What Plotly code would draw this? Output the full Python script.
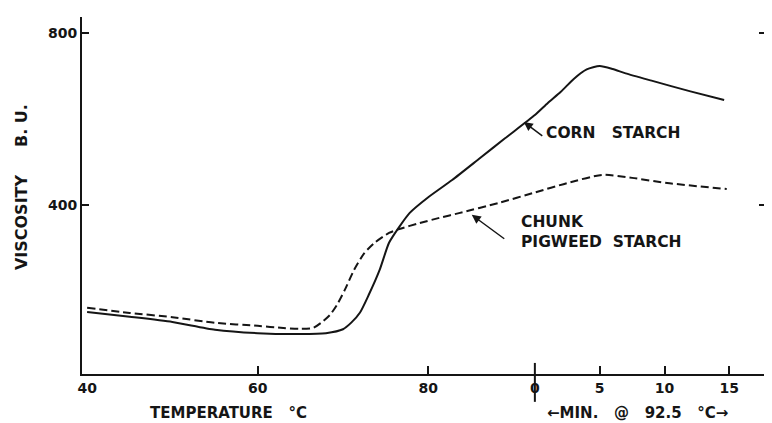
import plotly.graph_objects as go

# ---- data ----
# heating phase (temperature, deg C) and holding phase (minutes at 92.5 C)
corn_temp = [40, 45, 50, 55, 60, 65, 68, 70, 71, 72, 73, 74.3, 75.4, 76.6, 77.8, 80, 82.8, 86, 89]
corn_temp_visc = [151, 140, 128, 110, 102, 100, 102, 111, 127, 150, 190, 249, 312, 349, 381, 418, 458, 508, 555]
corn_min = [0, 1, 2, 3, 4, 5, 6, 7, 9, 12, 14.6]
corn_min_visc = [609, 637, 663, 693, 715, 723, 716, 706, 689, 664, 644]

pig_temp = [40, 45, 50, 55, 60, 63, 65, 66.5, 67.5, 68.5, 69.3, 70.2, 71.3, 72.5, 73.7, 75.4, 76.6, 79, 81.3, 83.6, 88.3]
pig_temp_visc = [161, 149, 139, 126, 119, 114, 112, 114, 127, 145, 168, 202, 249, 288, 312, 335, 344, 358, 370, 381, 405]
pig_min = [0, 2.5, 5.2, 7.5, 10.2, 14.8]
pig_min_visc = [429, 451, 470, 463, 451, 437]

temp_ticks = [40, 60, 80]
min_ticks = [0, 5, 10, 15]
y_ticks = [400, 800]

HOLD_T = 92.5        # minute 0 sits at 92.5 C on the shared axis
MIN_SCALE = 1.52     # axis units per minute


def m2x(m):
    return HOLD_T + m * MIN_SCALE


corn_x = corn_temp + [m2x(m) for m in corn_min]
corn_y = corn_temp_visc + corn_min_visc
pig_x = pig_temp + [m2x(m) for m in pig_min]
pig_y = pig_temp_visc + pig_min_visc

FONT = "DejaVu Sans"
INK = "#151515"

fig = go.Figure()
fig.add_trace(go.Scatter(x=corn_x, y=corn_y, mode="lines", name="CORN STARCH",
                         line=dict(color=INK, width=2, shape="spline", smoothing=0.6)))
fig.add_trace(go.Scatter(x=pig_x, y=pig_y, mode="lines", name="CHUNK PIGWEED STARCH",
                         line=dict(color=INK, width=2, dash="8px,4px", shape="spline", smoothing=0.6)))

tickvals = temp_ticks + [m2x(m) for m in min_ticks]
ticktext = [str(t) for t in temp_ticks] + [str(m) for m in min_ticks]
minor_vals = temp_ticks[1:] + [m2x(m) for m in min_ticks[1:]]

# page body has an 8px margin, so the figure is sized to fit inside it
fig.update_layout(
    width=764, height=415,
    margin=dict(l=74, r=4, t=9, b=49),
    paper_bgcolor="white", plot_bgcolor="white",
    showlegend=False,
    font=dict(family=FONT, size=14, color=INK, weight="bold"),
    xaxis=dict(range=[39.4, 119.6], showgrid=False, zeroline=False,
               showline=True, linecolor=INK, linewidth=2, mirror=False,
               tickmode="array", tickvals=tickvals, ticktext=ticktext,
               ticks="inside", ticklen=0,
               minor=dict(tickmode="array", tickvals=minor_vals, ticks="inside",
                          ticklen=8, tickwidth=2, tickcolor=INK),
               tickfont=dict(family=FONT, size=14, color=INK, weight="bold")),
    yaxis=dict(range=[7, 837], showgrid=False, zeroline=False,
               showline=True, linecolor=INK, linewidth=2, mirror="ticks",
               tickmode="array", tickvals=y_ticks, ticks="inside", ticklen=7,
               tickwidth=2, tickcolor=INK,
               tickfont=dict(family=FONT, size=14, color=INK, weight="bold")),
)

# long tick crossing the axis at minute 0
fig.add_shape(type="line", xref="x", yref="paper", x0=m2x(0), x1=m2x(0),
              y0=-0.078, y1=0.031, line=dict(color=INK, width=2))

lab = dict(family=FONT, size=15, color=INK, weight="bold")
fig.add_annotation(text="TEMPERATURE   °C", xref="paper", yref="paper",
                   x=0.214, y=-0.108, xanchor="center", yanchor="middle",
                   showarrow=False, font=lab)
fig.add_annotation(text="←MIN.   @   92.5   °C→", xref="paper", yref="paper",
                   x=0.812, y=-0.108, xanchor="center", yanchor="middle",
                   showarrow=False, font=lab)
fig.add_annotation(text="VISCOSITY     B. U.", xref="paper", yref="paper",
                   x=-0.0875, y=0.524, xanchor="center", yanchor="middle",
                   textangle=-90, showarrow=False, font=dict(family=FONT, size=16, color=INK, weight="bold"))

# curve labels with arrows
cl = dict(family=FONT, size=15.5, color=INK, weight="bold")
fig.add_annotation(text="CORN   STARCH", xref="x", yref="y", x=93.6, y=568,
                   xanchor="left", showarrow=False, font=cl)
fig.add_annotation(text="", xref="x", yref="y", x=91.2, y=593, ax=20, ay=15,
                   showarrow=True, arrowhead=2, arrowsize=1.2, arrowwidth=1.5, arrowcolor=INK)
fig.add_annotation(text="CHUNK<br>PIGWEED  STARCH", xref="x", yref="y", x=90.6, y=338,
                   xanchor="left", align="left", showarrow=False, font=cl)
fig.add_annotation(text="", xref="x", yref="y", x=85.1, y=377, ax=34, ay=25,
                   showarrow=True, arrowhead=2, arrowsize=1.2, arrowwidth=1.5, arrowcolor=INK)

fig.write_html("out.html")
